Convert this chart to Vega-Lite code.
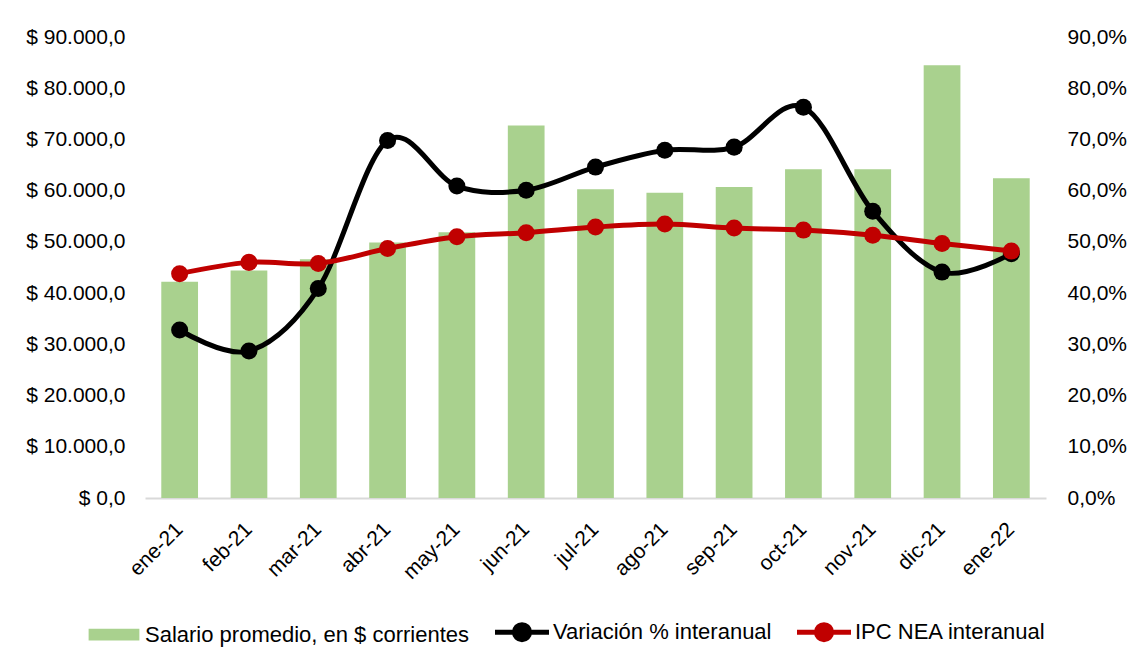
{
  "$schema": "https://vega.github.io/schema/vega-lite/v6.json",
  "width": 901,
  "height": 461,
  "autosize": {"type": "none"},
  "padding": {"left": 145, "top": 37, "right": 89, "bottom": 166},
  "background": "white",
  "config": {
    "locale": {"number": {"decimal": ",", "thousands": ".", "grouping": [3], "currency": ["$ ", ""]}},
    "view": {"stroke": null},
    "font": "Liberation Sans",
    "axis": {"labelFont": "Liberation Sans", "labelFontSize": 21, "labelColor": "#000000", "grid": false, "ticks": false, "title": null}
  },
  "data": {
    "values": [
      {"mes": "ene-21", "salario": 42200, "variacion": 0.328, "ipc": 0.438},
      {"mes": "feb-21", "salario": 44400, "variacion": 0.287, "ipc": 0.460},
      {"mes": "mar-21", "salario": 46600, "variacion": 0.409, "ipc": 0.458},
      {"mes": "abr-21", "salario": 49900, "variacion": 0.698, "ipc": 0.487},
      {"mes": "may-21", "salario": 51900, "variacion": 0.609, "ipc": 0.510},
      {"mes": "jun-21", "salario": 72700, "variacion": 0.601, "ipc": 0.518},
      {"mes": "jul-21", "salario": 60300, "variacion": 0.646, "ipc": 0.529},
      {"mes": "ago-21", "salario": 59600, "variacion": 0.679, "ipc": 0.535},
      {"mes": "sep-21", "salario": 60700, "variacion": 0.685, "ipc": 0.527},
      {"mes": "oct-21", "salario": 64200, "variacion": 0.763, "ipc": 0.523},
      {"mes": "nov-21", "salario": 64200, "variacion": 0.560, "ipc": 0.513},
      {"mes": "dic-21", "salario": 84500, "variacion": 0.441, "ipc": 0.497},
      {"mes": "ene-22", "salario": 62400, "variacion": 0.477, "ipc": 0.482}
    ]
  },
  "layer": [
    {
      "mark": {"type": "bar"},
      "encoding": {
        "x": {
          "field": "mes", "type": "ordinal", "sort": null,
          "scale": {"paddingInner": 0.47, "paddingOuter": 0.235},
          "axis": {"title": null, "labelAngle": -45, "labelAlign": "right", "labelBaseline": "middle", "labelPadding": 28, "ticks": false, "domainColor": "#d9d9d9", "domainWidth": 2, "labelFontSize": 21}
        },
        "y": {
          "field": "salario", "type": "quantitative",
          "scale": {"domain": [0, 90000], "nice": false},
          "axis": {"orient": "left", "title": null, "values": [0, 10000, 20000, 30000, 40000, 50000, 60000, 70000, 80000, 90000], "format": "$,.1f", "domain": false, "labelPadding": 20}
        },
        "color": {
          "datum": "salario",
          "scale": {"domain": ["salario", "variacion", "ipc"], "range": ["#a9d18e", "#000000", "#c00000"]},
          "legend": {
            "title": null,
            "orient": "none",
            "legendX": -42,
            "legendY": 584,
            "direction": "horizontal",
            "labelFont": "Liberation Sans",
            "labelFontSize": 22,
            "labelColor": "#000000",
            "labelLimit": 600,
            "labelOffset": 20,
            "columnPadding": 15,
            "symbolSize": 2916,
            "labelExpr": "datum.value == 'salario' ? 'Salario promedio, en $ corrientes' : datum.value == 'variacion' ? 'Variación % interanual' : 'IPC NEA interanual'",
            "encode": {
              "symbols": {
                "update": {
                  "shape": {"signal": "datum.value == 'salario' ? 'M-0.94,-0.22H0.94V0.22H-0.94ZM0,-0.47V0.47' : 'M-1,0H1M0.28,0A0.28,0.28 0 1 1 -0.28,0A0.28,0.28 0 1 1 0.28,0Z'"},
                  "fill": {"signal": "scale('color', datum.value)"},
                  "stroke": {"signal": "scale('color', datum.value)"},
                  "strokeWidth": {"signal": "datum.value == 'salario' ? 0 : 5"},
                  "opacity": {"value": 1},
                  "fillOpacity": {"value": 1},
                  "strokeOpacity": {"value": 1}
                }
              }
            }
          }
        }
      }
    },
    {
      "transform": [{"fold": ["variacion", "ipc"], "as": ["serie", "valor"]}],
      "encoding": {
        "x": {"field": "mes", "type": "ordinal", "sort": null},
        "y": {
          "field": "valor", "type": "quantitative",
          "scale": {"domain": [0, 0.9], "nice": false},
          "axis": {"orient": "right", "title": null, "values": [0, 0.1, 0.2, 0.3, 0.4, 0.5, 0.6, 0.7, 0.8, 0.9], "format": ".1%", "domain": false, "labelPadding": 21}
        },
        "color": {"field": "serie", "type": "nominal", "title": null}
      },
      "layer": [
        {"mark": {"type": "line", "interpolate": "cardinal", "tension": 0, "strokeWidth": 5}},
        {"mark": {"type": "point", "filled": true, "size": 290, "opacity": 1, "strokeWidth": 0}}
      ]
    }
  ],
  "resolve": {"scale": {"y": "independent"}}
}
